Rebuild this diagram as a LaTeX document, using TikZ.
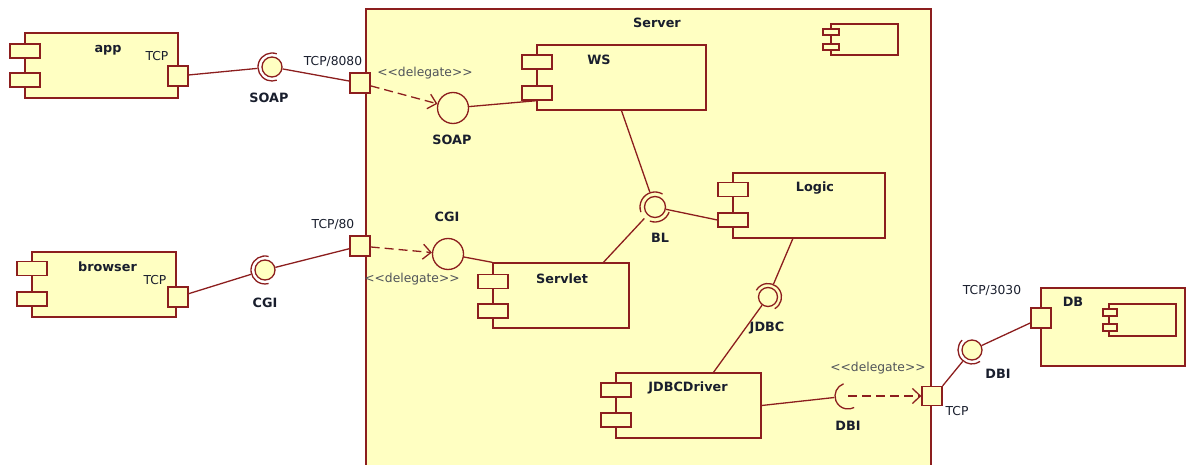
\documentclass[tikz,border=0pt]{standalone}
\usepackage{fontspec}
\setmainfont{DejaVu Sans}
\usetikzlibrary{arrows.meta}

\definecolor{umlred}{RGB}{140,30,30}
\definecolor{umlfill}{RGB}{255,255,194}
\definecolor{umltext}{RGB}{25,30,45}
\definecolor{umlgray}{RGB}{80,84,90}

\begin{document}
\begin{tikzpicture}[x=1pt, y=-1pt, color=umlred, line width=1.3pt,
    >={Straight Barb[length=8pt,width=15pt]},
    comp/.style={draw, fill=umlfill, minimum height=65, inner sep=0},
    tab/.style={draw, fill=umlfill, minimum width=30, minimum height=14, inner sep=0},
    port/.style={draw, fill=umlfill, minimum size=20, inner sep=0},
    ball/.style={circle, draw, fill=umlfill, minimum size=20, inner sep=0},
    hole/.style={circle, minimum size=28, inner sep=0},
    lbl/.style={text=umltext, font=\fontsize{12.8}{15}\selectfont\bfseries, inner sep=0},
    note/.style={text=umltext, font=\fontsize{12.3}{15}\selectfont, inner sep=0},
    stereo/.style={note, text=umlgray},
    dele/.style={->, dash pattern=on 9pt off 5pt}]
    \useasboundingbox (0,0) rectangle (1188,465);

    % Server container, open at the bottom
    \fill[umlfill] (366,9) rectangle (931,465);
    \draw (366,465) |- (931,9) -- (931,465);
    \node[lbl] (srvname) at (657,23) {Server};
    \node[draw, fill=umlfill, minimum width=67, minimum height=31, inner sep=0] (srvicon) at (864.5,39.5) {};
    \node[tab, minimum width=16, minimum height=6] (srvicon1) at (831,32) {};
    \node[tab, minimum width=16, minimum height=6] (srvicon2) at (831,47) {};

    % app
    \node[comp, minimum width=153] (app) at (101.5,65.5) {};
    \node[tab] (app1) at (25,51) {};
    \node[tab] (app2) at (25,80) {};
    \node[lbl] (appname) at (108,50) {app};
    \node[note] (apptcp) at (157,56) {TCP};
    \node[port] (appport) at (178,76) {};

    % browser
    \node[comp, minimum width=144] (browser) at (104,284.5) {};
    \node[tab] (browser1) at (32,268.5) {};
    \node[tab] (browser2) at (32,299) {};
    \node[lbl] (browsername) at (107.5,267) {browser};
    \node[note] (browsertcp) at (155,280) {TCP};
    \node[port] (browserport) at (178,297) {};

    % ports on the server
    \node[port] (p8080) at (360,83) {};
    \node[note] (p8080lbl) at (333,62) {TCP/8080};
    \node[port] (p80) at (360,246) {};
    \node[note] (p80lbl) at (333,225) {TCP/80};
    \node[port, minimum height=19] (p3) at (932,396) {};
    \node[note] (p3lbl) at (957,411) {TCP};

    % SOAP outside
    \node[ball] (soap1) at (272,67) {};
    \node[hole] (soap1s) at (272,67) {};
    \draw ([shift={(70:14pt)}]soap1.center) arc[start angle=70, end angle=290, radius=14pt];
    \node[lbl] (soap1lbl) at (269,98) {SOAP};
    \draw (appport) -- (soap1s);
    \draw (soap1) -- (p8080);

    % CGI outside
    \node[ball] (cgi1) at (265,270) {};
    \node[hole] (cgi1s) at (265,270) {};
    \draw ([shift={(75:14pt)}]cgi1.center) arc[start angle=75, end angle=285, radius=14pt];
    \node[lbl] (cgi1lbl) at (265,303) {CGI};
    \draw (browserport) -- (cgi1s);
    \draw (cgi1) -- (p80);

    % WS
    \node[comp, minimum width=169] (ws) at (621.5,77.5) {};
    \node[tab] (ws1) at (537,62) {};
    \node[tab] (ws2) at (537,93) {};
    \node[lbl] (wsname) at (599,60) {WS};
    \node[circle, draw, minimum size=31, inner sep=0] (soap2) at (453,108) {};
    \node[lbl] (soap2lbl) at (452,140) {SOAP};
    \node[stereo] (dele1) at (425,73) {<{}<delegate>{}>};
    \draw[dele] (p8080) -- (soap2);
    \draw (soap2) -- (ws2.south);

    % Servlet
    \node[comp, minimum width=136] (servlet) at (561,295.5) {};
    \node[tab] (servlet1) at (493,281.5) {};
    \node[tab] (servlet2) at (493,311) {};
    \node[lbl] (servletname) at (562,279) {Servlet};
    \node[circle, draw, minimum size=31, inner sep=0] (cgi2) at (448,254) {};
    \node[lbl] (cgi2lbl) at (447,217) {CGI};
    \node[stereo] (dele2) at (412,279) {<{}<delegate>{}>};
    \draw[dele] (p80) -- (cgi2);
    \draw (cgi2) -- (servlet.north west);

    % Logic and BL
    \node[comp, minimum width=152] (logic) at (809,205.5) {};
    \node[tab] (logic1) at (733,189.5) {};
    \node[tab] (logic2) at (733,220) {};
    \node[lbl] (logicname) at (815,188) {Logic};
    \node[ball, fill=none, minimum size=21] (bl) at (655,207) {};
    \node[hole, minimum size=30] (bls) at (655,207) {};
    \draw ([shift={(60:15pt)}]bl.center) arc[start angle=60, end angle=200, radius=15pt];
    \draw ([shift={(250:15pt)}]bl.center) arc[start angle=250, end angle=340, radius=15pt];
    \node[lbl] (bllbl) at (660,238) {BL};
    \draw (ws.south) -- (bls);
    \draw (servlet.38) -- (bls);
    \draw (bl) -- (logic2.west);

    % JDBCDriver and JDBC
    \node[comp, minimum width=145] (driver) at (688.5,405.5) {};
    \node[tab] (driver1) at (616,390) {};
    \node[tab] (driver2) at (616,420) {};
    \node[lbl] (drivername) at (688,388) {JDBCDriver};
    \node[ball, fill=none, minimum size=19] (jdbc) at (768,297) {};
    \node[hole, minimum size=27] (jdbcs) at (768,297) {};
    \draw ([shift={(-60:13.5pt)}]jdbc.center) arc[start angle=-60, end angle=150, radius=13.5pt];
    \node[lbl] (jdbclbl) at (767,328) {JDBC};
    \draw (logic.-116) -- (jdbcs);
    \draw (jdbc) -- (driver.53);

    % DBI inside, delegated to the TCP port
    \node[hole, minimum size=26] (dbi1) at (848,396) {};
    \draw ([shift={(110:13pt)}]dbi1.center) arc[start angle=110, end angle=298, radius=13pt];
    \node[lbl] (dbi1lbl) at (848,426) {DBI};
    \node[stereo] (dele3) at (878,368) {<{}<delegate>{}>};
    \draw (driver.east) -- (dbi1);
    \draw[dele] (dbi1.center) -- (p3);

    % DB
    \node[comp, minimum width=144, minimum height=78] (db) at (1113,327) {};
    \node[lbl] (dbname) at (1073,302) {DB};
    \node[draw, fill=umlfill, minimum width=67, minimum height=32, inner sep=0] (dbicon) at (1142.5,320) {};
    \node[tab, minimum width=14, minimum height=7] (dbicon1) at (1110,312.5) {};
    \node[tab, minimum width=14, minimum height=7] (dbicon2) at (1110,327.5) {};
    \node[port] (dbport) at (1041,318) {};
    \node[note] (dbportlbl) at (992,291) {TCP/3030};
    \node[ball] (dbi2) at (972,350) {};
    \node[hole] (dbi2s) at (972,350) {};
    \draw ([shift={(135:14pt)}]dbi2.center) arc[start angle=135, end angle=305, radius=14pt];
    \node[lbl] (dbi2lbl) at (998,374) {DBI};
    \draw (p3.north east) -- (dbi2s);
    \draw (dbi2) -- (dbport);
\end{tikzpicture}
\end{document}
